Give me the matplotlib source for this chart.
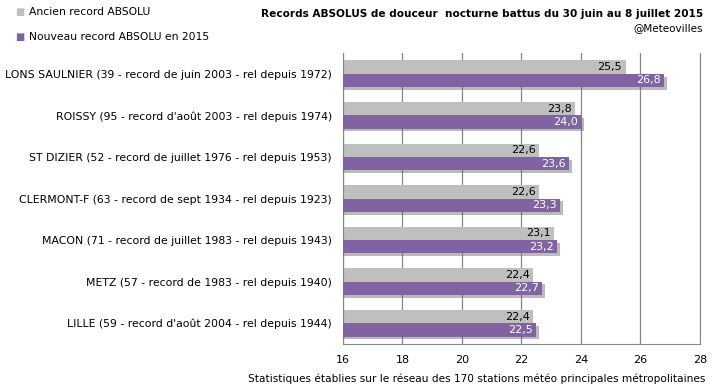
import numpy as np
import matplotlib.pyplot as plt
import matplotlib.patheffects as pe

# ---------------------------------------------------------------------------------------
# Data
stations = ["LONS SAULNIER (39 - record de juin 2003 - rel depuis 1972)",
            "ROISSY (95 - record d'août 2003 - rel depuis 1974)",
            "ST DIZIER (52 - record de juillet 1976 - rel depuis 1953)",
            "CLERMONT-F (63 - record de sept 1934 - rel depuis 1923)",
            "MACON (71 - record de juillet 1983 - rel depuis 1943)",
            "METZ (57 - record de 1983 - rel depuis 1940)",
            "LILLE (59 - record d'août 2004 - rel depuis 1944)"]
ancien = [25.5, 23.8, 22.6, 22.6, 23.1, 22.4, 22.4]
nouveau = [26.8, 24.0, 23.6, 23.3, 23.2, 22.7, 22.5]
xticks = [16, 18, 20, 22, 24, 26, 28]

grey = "#BFBFBF"
purple = "#8064A2"

fig = plt.figure(figsize=(7.15, 3.88), dpi=100)
ax = fig.add_axes([0.4797, 0.1134, 0.4993, 0.75])

y = np.arange(len(stations))
h = 0.32
ax.barh(y - h / 2, ancien, height=h, left=0, color=grey, zorder=2)
bars = ax.barh(y + h / 2, nouveau, height=h, left=0, color=purple, zorder=3)
for b in bars:
    b.set_path_effects([pe.SimplePatchShadow(offset=(2, -2), shadow_rgbFace="#666666", alpha=0.45),
                        pe.Normal()])

for yi, v in zip(y, ancien):
    ax.text(v - 0.12, yi - h / 2, f"{v:.1f}".replace(".", ","), ha="right", va="center",
            fontsize=8, color="black", zorder=5)
for yi, v in zip(y, nouveau):
    ax.text(v - 0.12, yi + h / 2, f"{v:.1f}".replace(".", ","), ha="right", va="center",
            fontsize=8, color="white", zorder=5)

ax.set_xlim(16, 28)
ax.set_ylim(len(stations) - 0.5, -0.5)
ax.set_xticks(xticks)
ax.set_xticklabels([str(t) for t in xticks], fontsize=8)
ax.set_yticks(y)
ax.set_yticklabels(stations, fontsize=7.8)
ax.tick_params(axis="y", length=0, pad=8)
ax.tick_params(axis="x", length=0, pad=8)
ax.grid(axis="x", color="#868686", linewidth=0.9, zorder=0)
for s in ["left", "bottom", "right"]:
    ax.spines[s].set_color("#868686")
ax.spines["top"].set_visible(False)

# titles / legend
fig.text(0.983, 0.978, "Records ABSOLUS de douceur  nocturne battus du 30 juin au 8 juillet 2015",
         ha="right", va="top", fontsize=7.6, fontweight="bold")
fig.text(0.983, 0.94, "@Meteovilles", ha="right", va="top", fontsize=7.5)
fig.text(0.021, 0.968, "\u25A0", color=grey, fontsize=7, va="center")
fig.text(0.04, 0.968, "Ancien record ABSOLU", fontsize=7.75, va="center")
fig.text(0.021, 0.905, "\u25A0", color=purple, fontsize=7, va="center")
fig.text(0.04, 0.905, "Nouveau record ABSOLU en 2015", fontsize=7.75, va="center")
fig.text(0.667, 0.025, "Statistiques établies sur le réseau des 170 stations météo principales métropolitaines",
         ha="center", va="center", fontsize=7.6)

plt.savefig("out.png", dpi=100)
